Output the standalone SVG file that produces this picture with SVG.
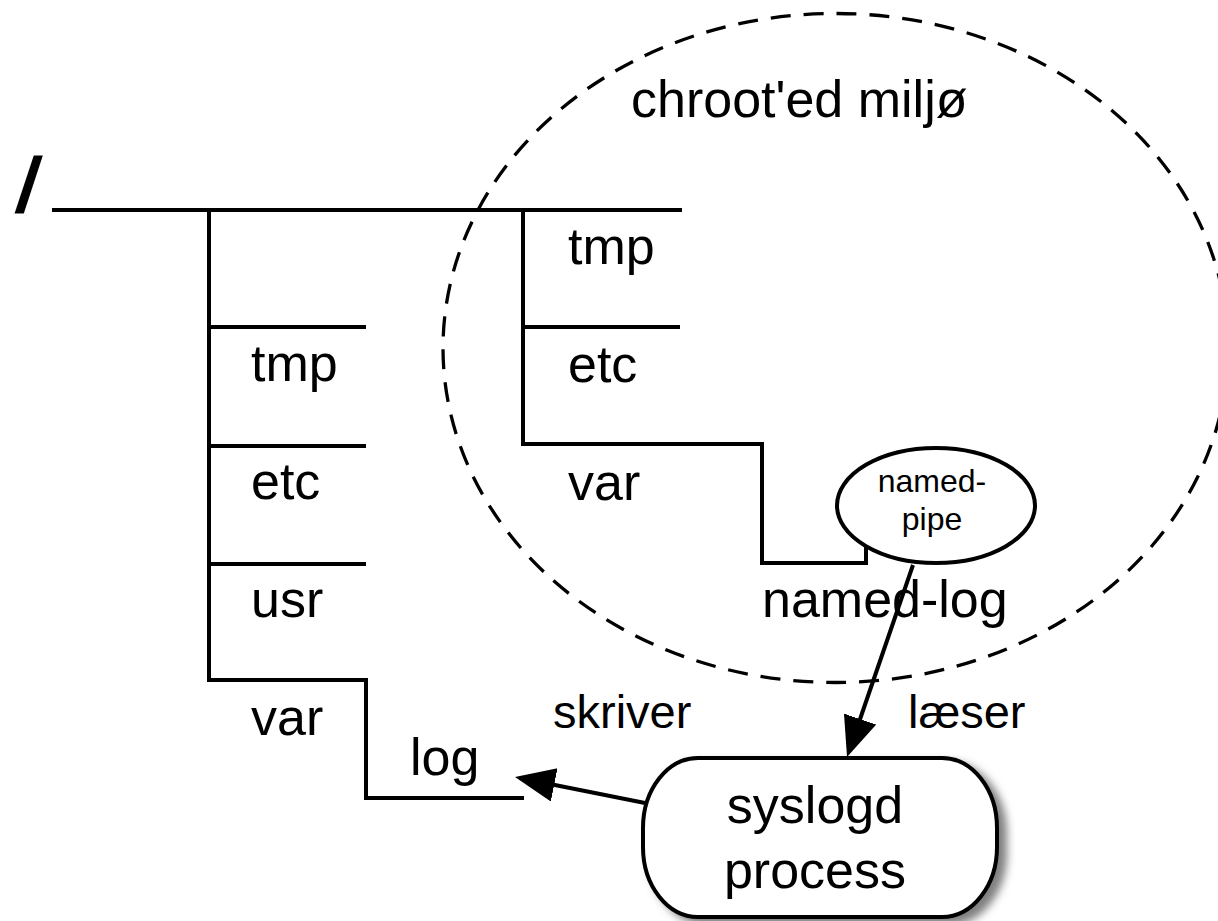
<svg xmlns="http://www.w3.org/2000/svg" width="1218" height="921" viewBox="0 0 1218 921">
  <style>
    .t { font-family: "Liberation Sans", Arial, Helvetica, sans-serif; font-size: 52px; fill: #000; }
    .small { font-size: 32px; }
    .label { font-size: 47px; }
    .slash { font-size: 78px; font-weight: bold; }
    .tree { fill: none; stroke: #000; stroke-width: 4; stroke-linecap: square; }
    .edge { fill: none; stroke: #000; stroke-width: 4; }
    .shape { fill: #fff; stroke: #000; stroke-width: 4; }
  </style>
  <defs>
    <marker id="arrow" markerUnits="userSpaceOnUse" markerWidth="42" markerHeight="36" refX="30" refY="17" orient="auto">
      <path d="M0,0 L40,17 L0,34 z" fill="#000"/>
    </marker>
    <filter id="shadow" x="-10%" y="-10%" width="130%" height="130%">
      <feDropShadow dx="8" dy="6" stdDeviation="4" flood-color="#000" flood-opacity="0.5"/>
    </filter>
  </defs>
  <rect width="1218" height="921" fill="#fff"/>

  <!-- chroot boundary -->
  <g id="chroot">
    <ellipse cx="835.5" cy="348" rx="392.5" ry="334.5" fill="none" stroke="#000" stroke-width="3.3" stroke-dasharray="20 13"/>
    <text class="t" x="631" y="117">chroot'ed miljø</text>
  </g>

  <!-- root directory -->
  <g id="root">
    <text class="t slash" transform="translate(14 212) skewX(-8)">/</text>
    <path class="tree" d="M54,210 H680"/>
  </g>

  <!-- main tree -->
  <g id="main-tree">
    <path class="tree" d="M209,210 V680 H366 V798 H522"/>
    <path class="tree" d="M209,327 H364 M209,446 H364 M209,564 H364"/>
    <text class="t" x="251" y="381">tmp</text>
    <text class="t" x="251" y="499">etc</text>
    <text class="t" x="251" y="617">usr</text>
    <text class="t" x="251" y="735">var</text>
    <text class="t" x="410" y="775">log</text>
  </g>

  <!-- chrooted tree -->
  <g id="chroot-tree">
    <path class="tree" d="M523,210 V444 H762 V563 H866 V540"/>
    <path class="tree" d="M523,327 H678"/>
    <text class="t" x="568" y="264">tmp</text>
    <text class="t" x="568" y="382">etc</text>
    <text class="t" x="568" y="500">var</text>
    <text class="t" x="762" y="617">named-log</text>
  </g>

  <!-- named pipe -->
  <g id="named-pipe">
    <ellipse class="shape" cx="936" cy="505.5" rx="99" ry="57.5"/>
    <text class="t small" x="932" y="492" text-anchor="middle">named-</text>
    <text class="t small" x="932" y="530" text-anchor="middle">pipe</text>
  </g>

  <!-- syslogd -->
  <g id="syslogd">
    <rect class="shape" x="643" y="758" width="354" height="159" rx="55" ry="70" filter="url(#shadow)"/>
    <text class="t" x="815" y="823" text-anchor="middle">syslogd</text>
    <text class="t" x="815" y="888" text-anchor="middle">process</text>
  </g>

  <!-- connectors -->
  <g id="connectors">
    <path class="edge" d="M913,565 L850.3,747.5" marker-end="url(#arrow)"/>
    <path class="edge" d="M645,803 L524.8,779" marker-end="url(#arrow)"/>
    <text class="t label" x="553" y="728">skriver</text>
    <text class="t label" x="908" y="728">læser</text>
  </g>
</svg>
